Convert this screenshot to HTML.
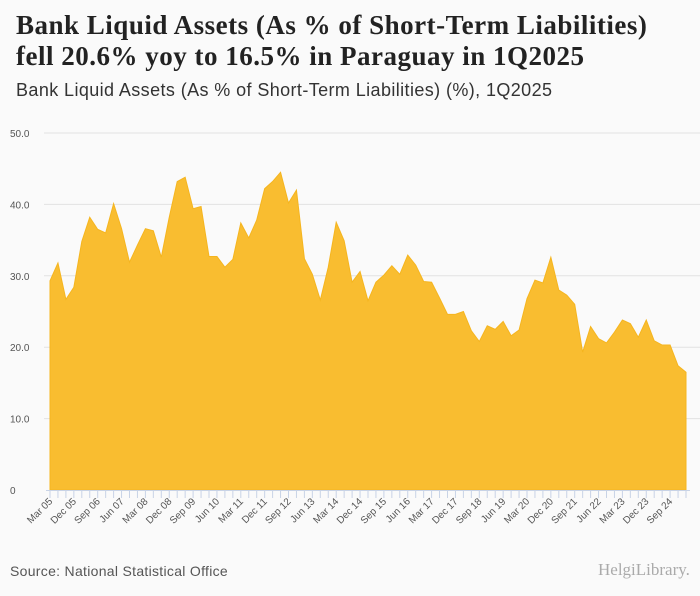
<!DOCTYPE html>
<html><head><meta charset="utf-8"><style>
body{margin:0;background:#fafafa;font-family:"Liberation Sans",sans-serif;}
.wrap{position:relative;width:700px;height:596px;background:#fafafa;overflow:hidden}
h1{position:absolute;left:16px;top:10px;margin:0;font-family:"Liberation Serif",serif;font-weight:bold;font-size:27px;letter-spacing:0.5px;line-height:31px;color:#222}
.sub{position:absolute;left:16px;top:80px;font-size:18px;letter-spacing:0.4px;color:#333}
.src{position:absolute;left:10px;top:563px;font-size:14px;letter-spacing:0.3px;color:#555}
.logo{position:absolute;left:598px;top:560px;font-size:17px;color:#aaa;font-family:"Liberation Serif",serif}
</style></head><body><div class="wrap">
<h1>Bank Liquid Assets (As % of Short-Term Liabilities)<br>fell 20.6% yoy to 16.5% in Paraguay in 1Q2025</h1>
<div class="sub">Bank Liquid Assets (As % of Short-Term Liabilities) (%), 1Q2025</div>
<svg id="chart" width="700" height="596" style="position:absolute;left:0;top:0"></svg>
<div class="src">Source: National Statistical Office</div>
<div class="logo">HelgiLibrary.</div>
</div>
<script>
const values=[29.3,31.8,26.7,28.4,34.8,38.2,36.5,36.0,40.1,36.6,31.9,34.3,36.6,36.3,32.6,38.2,43.2,43.8,39.4,39.7,32.7,32.7,31.2,32.3,37.4,35.3,37.8,42.2,43.2,44.5,40.2,42.0,32.4,30.2,26.6,31.2,37.5,34.9,29.1,30.6,26.5,29.1,30.1,31.4,30.2,32.9,31.5,29.2,29.1,26.9,24.6,24.6,25.0,22.3,20.8,23.0,22.5,23.6,21.6,22.4,26.8,29.4,29.0,32.6,28.0,27.3,26.0,19.3,22.9,21.2,20.6,22.1,23.8,23.3,21.4,23.8,20.9,20.3,20.3,17.4,16.5];
const yTicks=[0,10,20,30,40,50];
const yTickLabels=["0","10.0","20.0","30.0","40.0","50.0"];
const mon=["Mar","Jun","Sep","Dec"];
const NS="http://www.w3.org/2000/svg";
const svg=document.getElementById('chart');
const x0=50,x1=686,yb=490,yt=133;
const xs=i=>x0+i*(x1-x0)/(values.length-1);
const ys=v=>yb-(v/50)*(yb-yt);
function mk(t,a){const e=document.createElementNS(NS,t);for(const k in a)e.setAttribute(k,a[k]);svg.appendChild(e);return e;}
yTicks.forEach((t,i)=>{
 if(t>0){const l=mk('line',{x1:44,x2:700,y1:ys(t),y2:ys(t),stroke:'#e2e2e2'});
 
 }
 const tx=mk('text',{x:10,y:ys(t)+4,'font-size':10,fill:'#555','font-family':'Liberation Sans'});
 tx.textContent=yTickLabels[i];
 
 
});
let d='M'+xs(0)+','+yb;
values.forEach((v,i)=>d+=' L'+xs(i)+','+ys(v));
d+=' L'+xs(values.length-1)+','+yb+' Z';
const a=mk('path',{d:d,fill:'#f9bd30',stroke:'#f5b51f','stroke-width':1});


mk('line',{x1:46,x2:690,y1:yb+0.5,y2:yb+0.5,stroke:'#c8d3e6'});
values.forEach((v,i)=>{
 mk('line',{x1:xs(i),x2:xs(i),y1:yb,y2:yb+8,stroke:'#c8d3e6'});
 if(i%3===0){
  const yr=5+Math.floor(i/4);
  const lab=mon[i%4]+' '+String(yr).padStart(2,'0');
  const t=mk('text',{x:xs(i)+3,y:yb+12,'font-size':10,fill:'#555','text-anchor':'end','font-family':'Liberation Sans',transform:`rotate(-45 ${xs(i)+3} ${yb+12})`});
  t.textContent=lab;
  
  
 }
});
</script></body></html>
